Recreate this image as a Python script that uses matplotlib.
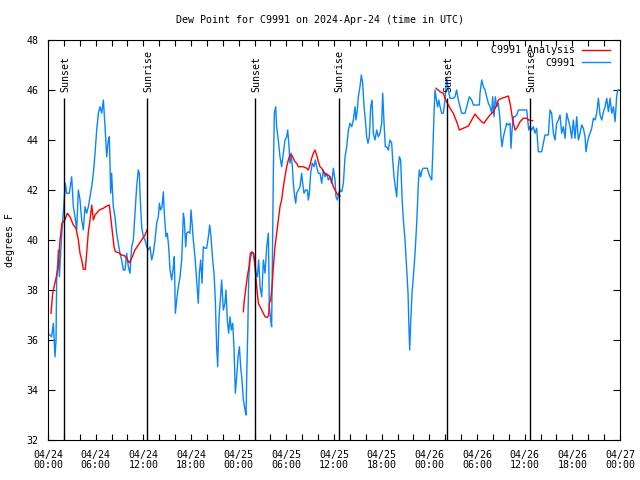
import numpy as np
import matplotlib
matplotlib.use("Agg")
import matplotlib.pyplot as plt
from matplotlib.ticker import MultipleLocator, FixedLocator, FixedFormatter

# ---- data (hours since 2024-04-24 00:00 UTC, dew point in degrees F) ----
obs_hours = [0.0, 0.46, 0.67, 0.88, 1.01, 1.09, 1.30, 1.43, 1.59, 1.76, 2.01, 2.18, 2.35, 2.69, 2.98,
             3.19, 3.40, 3.61, 3.82, 4.03, 4.24, 4.45, 4.66, 4.87, 5.08, 5.29, 5.50, 5.71, 5.92, 6.13,
             6.34, 6.55, 6.76, 6.97, 7.18, 7.39, 7.59, 7.72, 7.89, 8.01, 8.22, 8.43, 8.64, 8.85, 9.06,
             9.27, 9.48, 9.69, 9.90, 10.11, 10.32, 10.53, 10.74, 10.95, 11.16, 11.37, 11.50, 11.58, 11.79,
             12.00, 12.21, 12.42, 12.63, 12.84, 13.05, 13.26, 13.47, 13.68, 13.89, 14.02, 14.18, 14.35,
             14.52, 14.64, 14.85, 15.02, 15.19, 15.36, 15.57, 15.78, 15.90, 16.03, 16.20, 16.41, 16.62,
             16.83, 17.04, 17.16, 17.33, 17.45, 17.66, 17.87, 18.00, 18.17, 18.29, 18.50, 18.71, 18.92,
             19.05, 19.22, 19.39, 19.55, 19.76, 19.97, 20.19, 20.35, 20.52, 20.73, 20.90, 21.06, 21.23,
             21.36, 21.53, 21.69, 21.86, 22.07, 22.28, 22.40, 22.57, 22.74, 22.91, 23.08, 23.25, 23.41,
             23.58, 23.75, 23.92, 24.09, 24.25, 24.42, 24.59, 24.80, 24.93, 25.01, 25.14, 25.26, 25.43,
             25.64, 25.85, 26.01, 26.18, 26.35, 26.52, 26.69, 26.90, 27.11, 27.32, 27.53, 27.74, 27.86,
             28.03, 28.15, 28.28, 28.37, 28.49, 28.66, 28.78, 28.99, 29.20, 29.41, 29.62, 29.83, 30.04,
             30.17, 30.34, 30.46, 30.59, 30.76, 30.88, 31.05, 31.18, 31.30, 31.51, 31.72, 31.93, 32.06,
             32.23, 32.43, 32.65, 32.77, 32.90, 33.06, 33.27, 33.48, 33.65, 33.82, 34.03, 34.24, 34.45,
             34.66, 34.87, 35.08, 35.29, 35.50, 35.71, 35.92, 36.13, 36.25, 36.42, 36.59, 36.76, 36.97,
             37.18, 37.39, 37.60, 37.81, 38.02, 38.23, 38.44, 38.65, 38.77, 38.94, 39.06, 39.27, 39.44,
             39.61, 39.78, 39.95, 40.11, 40.28, 40.45, 40.62, 40.79, 40.95, 41.16, 41.37, 41.58, 41.79,
             42.00, 42.13, 42.30, 42.46, 42.63, 42.84, 43.05, 43.26, 43.39, 43.55, 43.72, 43.89, 44.06,
             44.23, 44.39, 44.56, 44.73, 44.94, 45.15, 45.32, 45.44, 45.53, 45.65, 45.82, 45.99, 46.20,
             46.41, 46.62, 46.74, 46.91, 47.08, 47.25, 47.46, 47.75, 47.92, 48.09, 48.30, 48.42, 48.59,
             48.72, 48.84, 48.93, 49.05, 49.18, 49.35, 49.55, 49.76, 49.97, 50.18, 50.39, 50.60, 51.02,
             51.23, 51.44, 51.65, 51.86, 52.07, 52.49, 52.70, 53.04, 53.33, 53.54, 53.96, 54.30, 54.38,
             54.59, 54.80, 55.01, 55.22, 55.43, 55.64, 55.85, 55.97, 56.14, 56.31, 56.48, 56.69, 56.90,
             57.02, 57.15, 57.32, 57.53, 57.74, 57.95, 58.16, 58.28, 58.41, 58.58, 58.79, 59.00, 59.21,
             59.42, 59.63, 60.05, 60.26, 60.38, 60.51, 60.67, 60.88, 61.09, 61.30, 61.51, 61.72, 61.93,
             62.14, 62.35, 62.56, 62.77, 62.98, 63.19, 63.40, 63.61, 63.82, 64.03, 64.24, 64.45, 64.66,
             64.87, 65.08, 65.29, 65.50, 65.71, 65.92, 66.13, 66.34, 66.55, 66.76, 66.97, 67.18, 67.39,
             67.60, 67.72, 67.89, 68.06, 68.23, 68.44, 68.65, 68.86, 69.07, 69.28, 69.49, 69.70, 69.91,
             70.12, 70.33, 70.54, 70.75, 70.96, 71.17, 71.38, 71.58, 71.71, 72.0]
obs_values = [36.27, 36.13, 36.67, 35.33, 36.0, 38.4, 39.6, 38.53, 39.47, 40.4, 41.47, 42.27, 41.87, 41.87, 42.53,
              41.33, 40.93, 40.4, 42.0, 41.6, 40.8, 40.4, 41.33, 41.07, 41.33, 41.73, 42.13, 42.67, 43.47, 44.4,
              45.07, 45.33, 45.07, 45.6, 44.53, 43.33, 44.0, 44.13, 41.87, 42.67, 41.33, 40.93, 40.27, 39.87, 39.47,
              39.2, 38.8, 38.8, 39.47, 38.93, 38.67, 39.73, 40.0, 41.07, 42.13, 42.8, 42.67, 41.87, 40.53,
              40.13, 40.0, 39.73, 39.6, 39.73, 39.2, 39.47, 40.0, 40.67, 40.93, 41.47, 41.2, 41.33,
              41.93, 41.07, 40.13, 40.27, 39.73, 38.8, 38.4, 38.93, 39.33, 37.07, 37.6, 38.13, 38.53,
              39.2, 41.07, 40.8, 39.73, 40.27, 40.33, 40.27, 41.2, 40.53, 40.0, 39.33, 38.4, 37.47,
              38.67, 39.2, 38.27, 39.73, 39.67, 39.67, 40.13, 40.6, 40.13, 39.2, 38.67, 37.6, 35.73,
              34.93, 36.93, 37.6, 38.4, 37.2, 37.47, 38.0, 36.8, 36.27, 36.93, 36.4, 36.67, 35.73,
              33.87, 34.53, 35.33, 35.73, 34.93, 34.4, 33.6, 33.2, 33.0, 34.53, 36.27, 38.4, 39.2,
              39.47, 39.47, 39.2, 38.67, 38.53, 39.2, 38.13, 37.73, 39.2, 38.67, 39.73, 40.27, 37.33,
              36.8, 36.53, 40.27, 42.8, 45.07, 45.33, 44.53, 44.0, 43.33, 42.93, 43.47, 44.0, 44.13,
              44.4, 43.73, 43.07, 43.47, 42.93, 42.27, 41.73, 41.47, 41.87, 42.0, 42.13, 42.67, 42.27,
              41.87, 42.0, 42.0, 41.6, 41.87, 42.67, 43.07, 42.93, 43.2, 42.93, 42.67, 42.67, 42.27,
              42.8, 42.53, 42.67, 42.4, 42.53, 42.27, 42.87, 42.4, 41.73, 41.6, 41.87, 42.0, 41.93,
              42.27, 43.33, 43.73, 44.4, 44.67, 44.53, 44.8, 45.33, 44.8, 45.2, 45.73, 46.13, 46.6,
              46.27, 45.33, 44.8, 44.13, 43.87, 44.13, 45.33, 45.6, 44.27, 44.0, 44.4, 44.13, 44.27,
              44.67, 45.87, 44.67, 43.73, 43.73, 43.6, 44.0, 43.87, 43.2, 42.53, 42.13, 41.73, 42.8,
              43.33, 43.2, 41.73, 40.8, 40.0, 38.8, 37.87, 36.4, 35.6, 36.67, 37.87, 38.53, 39.47,
              40.67, 42.27, 42.8, 42.53, 42.8, 42.87, 42.87, 42.87, 42.67, 42.53, 42.4, 43.33, 45.07,
              46.0, 45.73, 45.53, 45.33, 45.6, 45.33, 45.07, 45.07, 45.6, 46.5, 46.0, 45.67, 45.67,
              45.73, 46.0, 45.6, 45.33, 45.07, 45.07, 45.33, 45.73, 45.6, 45.4, 45.4, 45.4, 45.87,
              46.4, 46.13, 46.0, 45.73, 45.47, 45.33, 45.07, 45.73, 44.93, 45.73, 45.33, 45.47, 44.8,
              44.13, 43.73, 44.13, 44.4, 44.67, 44.6, 44.67, 43.67, 44.4, 44.93, 44.93, 45.0, 45.2,
              45.2, 45.2, 45.2, 45.2, 44.8, 44.4, 44.53, 44.4, 44.53, 44.27, 44.47, 43.53, 43.53,
              43.53, 43.87, 44.2, 44.2, 44.2, 45.2, 45.07, 44.27, 44.0, 44.67, 44.8, 45.0, 44.27,
              44.53, 44.07, 45.07, 44.8, 44.53, 44.07, 44.8, 44.07, 44.93, 44.0, 44.27, 44.6, 44.47,
              44.13, 43.53, 43.87, 44.13, 44.27, 44.47, 44.87, 44.8, 45.07, 45.67, 45.0, 44.8, 45.13,
              45.33, 45.67, 45.13, 45.67, 45.07, 45.33, 44.73, 45.73, 46.0, 46.0]

nan = float("nan")
ana_hours = [0.38, 0.59, 0.76, 1.01, 1.30, 1.51, 1.76, 2.14, 2.43, 2.77, 3.19, 3.52, 3.82, 4.03, 4.24,
             4.45, 4.70, 4.87, 5.08, 5.29, 5.50, 5.71, 5.92, 6.46, 6.97, 7.39, 7.72, 7.89, 8.14, 8.31,
             8.48, 8.85, 9.27, 9.69, 9.99, 10.24, 10.53, 10.95, 11.37, 11.79, 12.21, 12.50,
             18.0,
             24.59, 24.71, 24.92, 25.09, 25.30, 25.47, 25.64, 25.85, 26.06, 26.27, 26.48, 26.69, 26.90,
             27.11, 27.32, 27.61, 27.78, 27.86, 28.03, 28.20, 28.37, 28.57, 28.78, 28.99, 29.20, 29.41,
             29.62, 29.83, 30.04, 30.25, 30.46, 30.67, 30.88, 31.09, 31.30, 31.51, 31.72, 32.14, 32.56,
             32.77, 32.98, 33.19, 33.40, 33.61, 33.82, 34.03, 34.24, 34.45, 34.66, 34.87, 35.08, 35.29,
             35.50, 35.71, 35.92, 36.13, 36.34, 36.55, 36.76,
             42.0,
             48.84, 49.35, 49.76, 49.97, 50.18, 50.60, 51.02, 51.44, 51.78, 52.28, 52.91, 53.33, 53.75,
             54.17, 54.59, 54.88, 55.22, 55.64, 56.06, 56.48, 56.69, 57.11, 57.53, 57.95, 58.24, 58.49,
             58.79, 59.00, 59.42, 59.84, 60.26, 60.47, 60.67, 61.01]
ana_values = [37.07, 37.87, 38.13, 38.47, 38.93, 40.0, 40.67, 40.8, 41.07, 40.93, 40.6, 40.47, 40.0, 39.47, 39.2,
              38.83, 38.83, 39.47, 40.33, 40.8, 41.4, 40.8, 41.0, 41.2, 41.27, 41.36, 41.4, 40.93, 40.27, 39.73,
              39.53, 39.5, 39.4, 39.36, 39.2, 39.09, 39.27, 39.6, 39.8, 40.0, 40.2, 40.43,
              nan,
              37.13, 37.6, 38.13, 38.53, 38.93, 39.47, 39.53, 39.47, 38.93, 38.13, 37.47, 37.33, 37.2,
              37.07, 36.93, 36.9, 37.0, 37.47, 37.6, 38.13, 38.93, 39.73, 40.27, 40.8, 41.33, 41.6,
              42.13, 42.53, 42.93, 43.2, 43.4, 43.4, 43.27, 43.13, 43.07, 42.93, 42.93, 42.93, 42.87,
              42.8, 43.0, 43.27, 43.47, 43.6, 43.4, 43.13, 42.93, 42.87, 42.73, 42.67, 42.6, 42.6,
              42.53, 42.33, 42.13, 42.0, 41.87, 41.8, 41.76,
              nan,
              46.07, 45.93, 45.87, 45.67, 45.53, 45.27, 45.07, 44.73, 44.4, 44.47, 44.56, 44.8, 45.04,
              44.87, 44.73, 44.67, 44.83, 45.0, 45.13, 45.4, 45.6, 45.67, 45.71, 45.76, 45.33, 44.8,
              44.4, 44.47, 44.73, 44.87, 44.87, 44.8, 44.8, 44.77]

sunset_hours = [2.07, 26.10, 50.27]
sunrise_hours = [12.50, 36.58, 60.73]
tick_hours = [0, 6, 12, 18, 24, 30, 36, 42, 48, 54, 60, 66, 72]
tick_labels = ["04/24\n00:00", "04/24\n06:00", "04/24\n12:00", "04/24\n18:00",
               "04/25\n00:00", "04/25\n06:00", "04/25\n12:00", "04/25\n18:00",
               "04/26\n00:00", "04/26\n06:00", "04/26\n12:00", "04/26\n18:00",
               "04/27\n00:00"]
y_min, y_max = 32, 48
sun_line_top = 45.68
sun_label_y = 45.92

plt.rcParams['font.family'] = ['DejaVu Sans Mono']
FS = 7.2

fig = plt.figure(figsize=(6.4, 4.8), dpi=100)
ax = fig.add_axes([48 / 640, 40 / 480, 572 / 640, 400 / 480])

ax.plot(ana_hours, ana_values, color='#ff0000', lw=1.0, label='C9991 Analysis', zorder=3)
ax.plot(obs_hours, obs_values, color='#0a84ff', lw=1.0, label='C9991', zorder=2)

ax.vlines(sunset_hours + sunrise_hours, y_min, sun_line_top, color='black', lw=1.0, zorder=4)
for t in sunset_hours:
    ax.text(t + 0.12, sun_label_y, 'Sunset', rotation=90, ha='center', va='bottom', fontsize=FS, zorder=5)
for t in sunrise_hours:
    ax.text(t + 0.12, sun_label_y, 'Sunrise', rotation=90, ha='center', va='bottom', fontsize=FS, zorder=5)

ax.set_xlim(0, 72)
ax.set_ylim(y_min, y_max)
ax.xaxis.set_major_locator(FixedLocator(tick_hours))
ax.xaxis.set_major_formatter(FixedFormatter(tick_labels))
ax.xaxis.set_minor_locator(MultipleLocator(2))
ax.yaxis.set_major_locator(MultipleLocator(2))
ax.tick_params(which='both', direction='in', top=True, right=True, labelsize=FS, width=0.8)
ax.tick_params(axis='y', which='major', length=5, pad=7)
ax.tick_params(axis='x', which='major', length=4, pad=7)
ax.tick_params(axis='x', which='minor', length=4)
for lab in ax.get_xticklabels():
    lab.set_linespacing(1.05)
for s in ax.spines.values():
    s.set_linewidth(0.8)

fig.text(0.5, 1 - 20 / 480, 'Dew Point for C9991 on 2024-Apr-24 (time in UTC)', ha='center', va='center', fontsize=FS)
fig.text(10 / 640, 0.5, 'degrees F', rotation=90, ha='center', va='center', fontsize=FS)

ax.legend(loc='upper right', bbox_to_anchor=(562 / 572, 1 - 5.5 / 400), frameon=False, markerfirst=False,
          handlelength=2.8, handletextpad=0.7, labelspacing=0.25, borderpad=0, borderaxespad=0, fontsize=FS)

fig.savefig('out.png', dpi=100)
